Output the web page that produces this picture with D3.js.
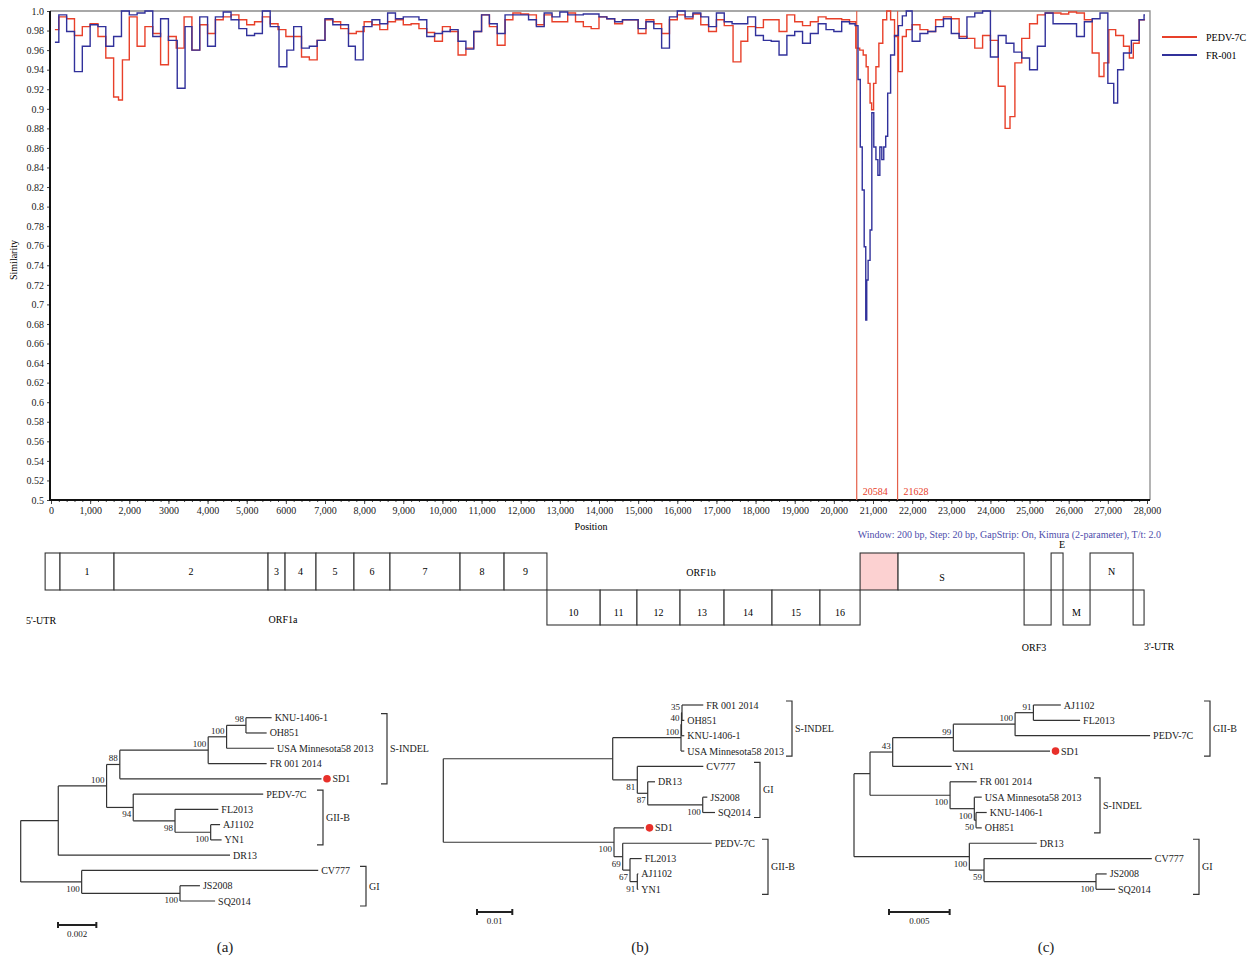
<!DOCTYPE html>
<html>
<head>
<meta charset="utf-8">
<script src="https://cdn.jsdelivr.net/npm/d3@7"></script>
<style>
  body { margin: 0; background: #fff; }
  svg { display: block; font-family: "Liberation Serif", "DejaVu Serif", serif; }
</style>
</head>
<body>
<div id="chart"></div>
<script>
// ---------------- data ----------------
// similarity plot, [position (bp), similarity]
var pedv7c = [
  [100,0.981],[300,0.994],[500,0.992],[700,0.975],[900,0.984],[1100,0.987],[1300,0.974],[1500,0.952],
  [1700,0.912],[1750,0.909],[1900,0.950],[2100,0.994],[2300,0.964],[2500,0.984],[2700,0.977],[2900,0.945],
  [3100,0.974],[3300,0.962],[3500,0.994],[3700,0.960],[3900,0.986],[4100,0.977],[4300,0.991],[4500,0.994],
  [4700,0.996],[4900,0.991],[5100,0.986],[5300,0.989],[5500,0.994],[5700,0.987],[5900,0.981],[6100,0.974],
  [6300,0.974],[6500,0.953],[6700,0.950],[6900,0.970],[7100,0.991],[7300,0.989],[7500,0.982],[7700,0.977],
  [7900,0.979],[8100,0.989],[8300,0.986],[8500,0.981],[8700,0.989],[8900,0.991],[9100,0.986],[9300,0.987],
  [9500,0.982],[9700,0.978],[9900,0.969],[10100,0.984],[10300,0.979],[10500,0.955],[10700,0.962],[10900,0.979],
  [11100,0.996],[11300,0.984],[11500,0.965],[11700,0.991],[11900,0.998],[12100,0.997],[12300,0.996],[12500,0.986],
  [12700,0.996],[12900,0.989],[13100,0.989],[13300,0.998],[13500,0.989],[13700,0.984],[13900,0.982],[14100,0.994],
  [14300,0.992],[14500,0.987],[14700,0.991],[14900,0.991],[15100,0.977],[15300,0.991],[15500,0.987],[15700,0.977],
  [15900,0.991],[16100,0.996],[16300,0.992],[16500,0.997],[16700,0.986],[16900,0.979],[17100,0.991],[17300,0.985],
  [17550,0.948],[17700,0.969],[17900,0.984],[18100,0.983],[18300,0.991],[18500,0.991],[18700,0.979],[18900,0.996],
  [19100,0.989],[19300,0.985],[19500,0.989],[19700,0.994],[19900,0.992],[20100,0.992],[20300,0.991],[20500,0.989],
  [20620,0.962],[20700,0.960],[20800,0.955],[20850,0.943],[20900,0.926],[20950,0.906],[20980,0.899],[21050,0.926],
  [21100,0.943],[21200,0.967],[21300,0.991],[21400,1.0],[21500,0.991],[21600,0.974],[21700,0.938],[21800,0.974],
  [21900,0.981],[22100,0.986],[22300,0.981],[22500,0.979],[22700,0.991],[22900,0.994],[23100,0.992],[23300,0.974],
  [23500,0.972],[23700,0.962],[23900,0.975],[24100,0.970],[24300,0.923],[24450,0.880],[24550,0.892],[24700,0.947],
  [24900,0.972],[25100,0.987],[25300,0.996],[25500,0.998],[25700,0.998],[25900,0.997],[26100,0.999],[26300,0.998],
  [26500,0.991],[26700,0.957],[26850,0.933],[26950,0.947],[27100,0.981],[27300,0.975],[27500,0.964],[27600,0.952],
  [27700,0.967],[27900,0.991],[27950,0.991]
];
var fr001 = [
  [100,0.968],[300,0.996],[500,0.979],[700,0.938],[900,0.964],[1100,0.986],[1300,0.984],[1500,0.964],
  [1700,0.974],[1900,1.0],[2100,0.996],[2300,0.998],[2500,1.0],[2700,0.974],[2900,0.992],[3100,0.970],
  [3350,0.921],[3500,0.984],[3700,0.960],[3900,0.994],[4100,0.964],[4300,0.994],[4500,0.999],[4700,0.991],
  [4900,0.982],[5100,0.975],[5300,0.977],[5500,1.0],[5700,0.984],[5950,0.943],[6100,0.960],[6300,0.984],
  [6500,0.962],[6700,0.964],[6900,0.970],[7100,0.992],[7300,0.986],[7500,0.986],[7700,0.964],[7850,0.950],
  [8100,0.984],[8300,0.991],[8500,0.987],[8700,0.998],[8900,0.992],[9100,0.994],[9300,0.994],[9500,0.991],
  [9700,0.974],[9900,0.977],[10100,0.979],[10300,0.981],[10500,0.969],[10700,0.961],[10900,0.979],[11100,0.996],
  [11300,0.987],[11500,0.977],[11700,0.996],[11900,0.996],[12100,0.996],[12300,0.991],[12500,0.984],[12700,0.998],
  [12900,0.994],[13100,0.999],[13300,0.996],[13500,0.996],[13700,0.997],[13900,0.997],[14100,0.994],[14300,0.992],
  [14500,0.989],[14700,0.991],[14900,0.991],[15100,0.982],[15300,0.989],[15500,0.982],[15700,0.962],[15900,0.994],
  [16100,1.0],[16300,0.994],[16500,0.998],[16700,0.994],[16900,0.984],[17100,0.998],[17300,0.989],[17500,0.987],
  [17700,0.987],[17900,0.994],[18100,0.975],[18300,0.970],[18500,0.969],[18700,0.955],[18900,0.975],[19100,0.979],
  [19300,0.967],[19500,0.977],[19700,0.987],[19900,0.981],[20100,0.979],[20300,0.989],[20500,0.987],[20584,0.985],
  [20650,0.930],[20700,0.861],[20750,0.817],[20800,0.759],[20830,0.684],[20850,0.725],[20900,0.745],[20950,0.776],
  [20990,0.896],[21050,0.861],[21100,0.848],[21150,0.832],[21200,0.861],[21250,0.848],[21300,0.861],[21350,0.872],
  [21400,0.916],[21500,0.955],[21600,0.975],[21700,0.985],[21800,0.995],[21900,1.0],[22100,0.969],[22300,0.977],
  [22500,0.979],[22700,0.984],[22900,0.992],[23100,0.977],[23300,0.972],[23500,0.994],[23700,0.998],[23900,1.0],
  [24100,0.953],[24300,0.975],[24500,0.967],[24700,0.958],[24900,0.952],[25100,0.940],[25300,0.964],[25500,0.998],
  [25700,0.987],[25900,0.987],[26100,0.987],[26300,0.974],[26500,0.989],[26700,0.992],[26900,0.998],[27100,0.926],
  [27200,0.906],[27300,0.940],[27500,0.957],[27700,0.970],[27900,0.991],[27950,0.996]
];
var breakpoints = [20584, 21628];

var xTickValues = d3.range(0, 28001, 1000);
var xTickLabels = ['0','1,000','2,000','3000','4,000','5,000','6000','7,000','8,000','9,000','10,000',
  '11,000','12,000','13,000','14,000','15,000','16,000','17,000','18,000','19,000','20,000','21,000',
  '22,000','23,000','24,000','25,000','26,000','27,000','28,000'];
var yTickValues = d3.range(0, 26).map(function(i) { return 0.5 + i * 0.02; });
var yTickLabels = ['0.5','0.52','0.54','0.56','0.58','0.6','0.62','0.64','0.66','0.68','0.7','0.72','0.74',
  '0.76','0.78','0.8','0.82','0.84','0.86','0.88','0.9','0.92','0.94','0.96','0.98','1.0'];

// genome map: [label, start bp, end bp, row (0 top / 1 bottom)]
var genomeSegments = [
  ['', -150, 230, 0], ['1', 230, 1610, 0], ['2', 1610, 5545, 0], ['3', 5545, 5980, 0],
  ['4', 5980, 6770, 0], ['5', 6770, 7740, 0], ['6', 7740, 8660, 0], ['7', 8660, 10450, 0],
  ['8', 10450, 11575, 0], ['9', 11575, 12670, 0],
  ['10', 12670, 14030, 1], ['11', 14030, 14970, 1], ['12', 14970, 16070, 1], ['13', 16070, 17195, 1],
  ['14', 17195, 18420, 1], ['15', 18420, 19645, 1], ['16', 19645, 20670, 1],
  ['recomb', 20670, 21640, 0], ['S', 21640, 24860, 0], ['', 24860, 25550, 1], ['', 25550, 25855, 0],
  ['M', 25855, 26545, 1], ['N', 26545, 27645, 0], ['', 27645, 27925, 1]
];

// trees: [node id, parent id, branch length, bootstrap]
var treeA = [
  ['root','',0,''],
  ['a1','root',0.00196,''],
  ['a2','a1',0.00252,'100'],
  ['a3','a2',0.00069,'88'],
  ['a4','a3',0.00461,'100'],
  ['a5','a4',0.00096,'100'],
  ['a6','a5',0.00101,'98'],
  ['KNU-1406-1','a6',0.00134,''],
  ['OH851','a6',0.00108,''],
  ['USA Minnesota58 2013','a5',0.00247,''],
  ['FR 001 2014','a4',0.00305,''],
  ['SD1','a3',0.01052,''],
  ['a7','a2',0.00139,'94'],
  ['PEDV-7C','a7',0.00678,''],
  ['a8','a7',0.00218,'98'],
  ['FL2013','a8',0.00226,''],
  ['a9','a8',0.00186,'100'],
  ['AJ1102','a9',0.00049,''],
  ['YN1','a9',0.00057,''],
  ['DR13','a1',0.00896,''],
  ['a10','root',0.00318,'100'],
  ['CV777','a10',0.01234,''],
  ['a11','a10',0.00513,'100'],
  ['JS2008','a11',0.00104,''],
  ['SQ2014','a11',0.00183,'']
];
var treeB = [
  ['root','',0,''],
  ['b1','root',0.04799,''],
  ['b2','b1',0.01935,'100'],
  ['b3','b2',0.00014,'40'],
  ['b4','b3',0.00014,'35'],
  ['FR 001 2014','b4',0.00603,''],
  ['OH851','b4',0.00065,''],
  ['KNU-1406-1','b3',0.00079,''],
  ['USA Minnesota58 2013','b2',0.00093,''],
  ['b5','b1',0.00697,'81'],
  ['CV777','b5',0.0187,''],
  ['b6','b5',0.00295,'87'],
  ['DR13','b6',0.00207,''],
  ['b7','b6',0.01558,'100'],
  ['JS2008','b7',0.0013,''],
  ['SQ2014','b7',0.00348,''],
  ['b8','root',0.04836,'100'],
  ['SD1','b8',0.0085,''],
  ['b9','b8',0.00246,'69'],
  ['PEDV-7C','b9',0.02521,''],
  ['b10','b9',0.00207,'67'],
  ['FL2013','b10',0.00331,''],
  ['b11','b10',0.00207,'91'],
  ['AJ1102','b11',0.00028,''],
  ['YN1','b11',0.00028,'']
];
var treeC = [
  ['root','',0,''],
  ['c1','root',0.00132,''],
  ['c2','c1',0.00187,'43'],
  ['c3','c2',0.005,'99'],
  ['c4','c3',0.00509,'100'],
  ['c5','c4',0.00151,'91'],
  ['AJ1102','c5',0.00226,''],
  ['FL2013','c5',0.00385,''],
  ['PEDV-7C','c4',0.01113,''],
  ['SD1','c3',0.00797,''],
  ['YN1','c2',0.00486,''],
  ['c6','c1',0.0066,'100'],
  ['FR 001 2014','c6',0.0022,''],
  ['c7','c6',0.002,'100'],
  ['USA Minnesota58 2013','c7',0.00061,''],
  ['c8','c7',0.00014,'50'],
  ['KNU-1406-1','c8',0.00088,''],
  ['OH851','c8',0.00047,''],
  ['c9','root',0.00951,'100'],
  ['DR13','c9',0.00556,''],
  ['c10','c9',0.00121,'59'],
  ['CV777','c10',0.01383,''],
  ['c11','c10',0.00923,'100'],
  ['JS2008','c11',0.00088,''],
  ['SQ2014','c11',0.00157,'']
];
// clades: [name, first leaf, last leaf]
var cladesA = [['S-INDEL','KNU-1406-1','SD1'], ['GII-B','PEDV-7C','YN1'], ['GI','CV777','SQ2014']];
var cladesB = [['S-INDEL','FR 001 2014','USA Minnesota58 2013'], ['GI','CV777','SQ2014'], ['GII-B','PEDV-7C','YN1']];
var cladesC = [['GII-B','AJ1102','SD1'], ['S-INDEL','FR 001 2014','OH851'], ['GI','DR13','SQ2014']];
var scaleBars = [0.002, 0.01, 0.005];

// ---------------- svg ----------------
var chart_width = 1253;
var chart_height = 959;
var red = '#e8402a';
var blue = '#31319b';
var ink = '#333';

var svg = d3.select('#chart')
  .append('svg')
  .attr('width', chart_width)
  .attr('height', chart_height);

// scales
var x_scale = d3.scaleLinear().domain([0, 28000]).range([51, 1147]);
var y_scale = d3.scaleLinear().domain([0.5, 1.0]).range([500, 11]);

// frame (top/right grey)
svg.append('path')
  .attr('d', 'M50,11H1150V500')
  .attr('fill', 'none')
  .attr('stroke', '#8c8c8c')
  .attr('stroke-width', 1.3);

// axes
var x_axis = d3.axisBottom(x_scale)
  .tickValues(xTickValues)
  .tickSize(4)
  .tickPadding(3)
  .tickFormat(function(d, i) { return xTickLabels[i]; });
var gx = svg.append('g')
  .attr('class', 'x-axis')
  .attr('transform', 'translate(0,500)')
  .call(x_axis);

var x_minor = d3.axisBottom(x_scale)
  .tickValues(d3.range(0, 28001, 200))
  .tickSize(2)
  .tickFormat('');
svg.append('g')
  .attr('transform', 'translate(0,500)')
  .call(x_minor)
  .call(function(g) { g.select('.domain').remove(); });

var y_axis = d3.axisLeft(y_scale)
  .tickValues(yTickValues)
  .tickSize(3)
  .tickPadding(3)
  .tickFormat(function(d, i) { return yTickLabels[i]; });
var gy = svg.append('g')
  .attr('class', 'y-axis')
  .attr('transform', 'translate(50,0)')
  .call(y_axis);

[gx, gy].forEach(function(g) {
  g.select('.domain').remove();
  g.selectAll('text').attr('font-family', '"Liberation Serif", serif').attr('font-size', 10).attr('fill', '#222');
});
svg.selectAll('.tick line').attr('stroke', '#444');

// left / bottom black axis lines
svg.append('path')
  .attr('d', 'M50,11V500H1150')
  .attr('fill', 'none')
  .attr('stroke', '#111')
  .attr('stroke-width', 2);

// axis titles
svg.append('text')
  .attr('transform', 'translate(17,260) rotate(-90)')
  .attr('text-anchor', 'middle')
  .attr('font-size', 10)
  .text('Similarity');
svg.append('text')
  .attr('x', 591).attr('y', 530)
  .attr('text-anchor', 'middle')
  .attr('font-size', 10)
  .text('Position');

// breakpoint markers
svg.selectAll('.bp')
  .data(breakpoints)
  .enter()
  .append('line')
  .attr('x1', function(d) { return x_scale(d); })
  .attr('x2', function(d) { return x_scale(d); })
  .attr('y1', 11).attr('y2', 500)
  .attr('stroke', '#e4604a')
  .attr('stroke-width', 1.2);
svg.selectAll('.bp-label')
  .data(breakpoints)
  .enter()
  .append('text')
  .attr('x', function(d) { return x_scale(d) + 6; })
  .attr('y', 495)
  .attr('font-size', 10)
  .attr('fill', red)
  .text(function(d) { return d; });

// similarity lines (stepped, like the window scan output)
var line = d3.line()
  .curve(d3.curveStep)
  .x(function(d) { return x_scale(d[0]); })
  .y(function(d) { return y_scale(d[1]); });

svg.append('path')
  .datum(pedv7c)
  .attr('d', line)
  .attr('fill', 'none')
  .attr('stroke', red)
  .attr('stroke-width', 1.4);
svg.append('path')
  .datum(fr001)
  .attr('d', line)
  .attr('fill', 'none')
  .attr('stroke', blue)
  .attr('stroke-width', 1.4);

// legend
var legend = [['PEDV-7C', red, 37], ['FR-001', blue, 55]];
legend.forEach(function(l) {
  svg.append('line')
    .attr('x1', 1162).attr('x2', 1197)
    .attr('y1', l[2]).attr('y2', l[2])
    .attr('stroke', l[1]).attr('stroke-width', 2);
  svg.append('text')
    .attr('x', 1206).attr('y', l[2] + 3.5)
    .attr('font-size', 10)
    .text(l[0]);
});

svg.append('text')
  .attr('x', 1161).attr('y', 538)
  .attr('text-anchor', 'end')
  .attr('font-size', 10)
  .attr('fill', '#4d4dab')
  .text('Window: 200 bp, Step: 20 bp, GapStrip: On, Kimura (2-parameter), T/t: 2.0');

// ---------------- genome map ----------------
var rows = [[553, 590], [590, 625]];
var map = svg.append('g').attr('class', 'genome');
map.selectAll('rect')
  .data(genomeSegments)
  .enter()
  .append('rect')
  .attr('x', function(d) { return x_scale(d[1]); })
  .attr('y', function(d) { return rows[d[3]][0]; })
  .attr('width', function(d) { return x_scale(d[2]) - x_scale(d[1]); })
  .attr('height', function(d) { return rows[d[3]][1] - rows[d[3]][0]; })
  .attr('fill', function(d) { return d[0] === 'recomb' ? '#fcd1d1' : '#fff'; })
  .attr('stroke', '#333')
  .attr('stroke-width', 1.1);

map.selectAll('text.seg')
  .data(genomeSegments.filter(function(d) { return d[0] !== '' && d[0] !== 'recomb' && d[0] !== 'S'; }))
  .enter()
  .append('text')
  .attr('class', 'seg')
  .attr('x', function(d) { return (x_scale(d[1]) + x_scale(d[2])) / 2; })
  .attr('y', function(d) { return d[3] === 0 ? 575 : 616; })
  .attr('text-anchor', 'middle')
  .attr('font-size', 10)
  .text(function(d) { return d[0]; });

var mapNotes = [
  ["5'-UTR", 41, 624], ['ORF1a', 283, 623], ['ORF1b', 701, 576], ['S', 942, 581],
  ['ORF3', 1034, 651], ['E', 1062, 548], ["3'-UTR", 1159, 650]
];
map.selectAll('text.note')
  .data(mapNotes)
  .enter()
  .append('text')
  .attr('class', 'note')
  .attr('x', function(d) { return d[1]; })
  .attr('y', function(d) { return d[2]; })
  .attr('text-anchor', 'middle')
  .attr('font-size', 10)
  .text(function(d) { return d[0]; });

// ---------------- trees ----------------
var treeLayouts = [
  { rows: treeA, clades: cladesA, x0: 20.7, k: 19170, yFirst: 717.7, yLast: 901,
    bracketX: [387, 323, 366], barX: 58, barY: 925, tag: '(a)', tagX: 225 },
  { rows: treeB, clades: cladesB, x0: 443.3, k: 3530, yFirst: 705, yLast: 889.3,
    bracketX: [792, 760, 768], barX: 477, barY: 912, tag: '(b)', tagX: 640 },
  { rows: treeC, clades: cladesC, x0: 854, k: 12130, yFirst: 705, yLast: 889.3,
    bracketX: [1210, 1100, 1199], barX: 889, barY: 912, tag: '(c)', tagX: 1046 }
];

treeLayouts.forEach(function(t, ti) {
  var root = d3.stratify()
    .id(function(d) { return d[0]; })
    .parentId(function(d) { return d[1] || null; })(t.rows);

  var leaves = root.leaves().length;
  var spacing = (t.yLast - t.yFirst) / (leaves - 1);
  d3.cluster().nodeSize([spacing, 1]).separation(function() { return 1; })(root);

  var minX = d3.min(root.leaves(), function(d) { return d.x; });
  var xs = d3.scaleLinear().domain([0, 1]).range([t.x0, t.x0 + t.k]);

  root.each(function(n) {
    n.dist = n.parent ? n.parent.dist + n.data[2] : 0;
    n.px = xs(n.dist);
    n.py = t.yFirst + (n.x - minX);
  });

  var g = svg.append('g').attr('class', 'tree');

  // horizontal branches
  g.selectAll('line.h')
    .data(root.descendants().filter(function(n) { return n.parent; }))
    .enter()
    .append('line')
    .attr('x1', function(n) { return n.parent.px; })
    .attr('x2', function(n) { return n.px; })
    .attr('y1', function(n) { return n.py; })
    .attr('y2', function(n) { return n.py; })
    .attr('stroke', ink)
    .attr('stroke-width', 1.2);

  // vertical connectors
  g.selectAll('line.v')
    .data(root.descendants().filter(function(n) { return n.children; }))
    .enter()
    .append('line')
    .attr('x1', function(n) { return n.px; })
    .attr('x2', function(n) { return n.px; })
    .attr('y1', function(n) { return n.children[0].py; })
    .attr('y2', function(n) { return n.children[n.children.length - 1].py; })
    .attr('stroke', ink)
    .attr('stroke-width', 1.2);

  // bootstrap values
  g.selectAll('text.boot')
    .data(root.descendants().filter(function(n) { return n.data[3] !== ''; }))
    .enter()
    .append('text')
    .attr('x', function(n) { return n.px - 2; })
    .attr('y', function(n) { return n.parent.children[0] === n ? n.py - 3 : n.py + 10; })
    .attr('text-anchor', 'end')
    .attr('font-size', 9)
    .attr('fill', '#222')
    .text(function(n) { return n.data[3]; });

  // leaf labels
  var leafNodes = root.leaves();
  g.selectAll('text.leaf')
    .data(leafNodes)
    .enter()
    .append('text')
    .attr('x', function(n) { return n.px + (n.id === 'SD1' ? 11 : 3); })
    .attr('y', function(n) { return n.py + 3.5; })
    .attr('font-size', 10)
    .attr('fill', '#222')
    .text(function(n) { return n.id; });

  g.selectAll('circle')
    .data(leafNodes.filter(function(n) { return n.id === 'SD1'; }))
    .enter()
    .append('circle')
    .attr('cx', function(n) { return n.px + 5.5; })
    .attr('cy', function(n) { return n.py; })
    .attr('r', 3.8)
    .attr('fill', '#e8302a');

  // clade brackets
  var byId = {};
  leafNodes.forEach(function(n) { byId[n.id] = n; });
  t.clades.forEach(function(c, ci) {
    var bx = t.bracketX[ci];
    var y1 = byId[c[1]].py - 4;
    var y2 = byId[c[2]].py + 5;
    g.append('path')
      .attr('d', 'M' + (bx - 6) + ',' + y1 + 'H' + bx + 'V' + y2 + 'H' + (bx - 6))
      .attr('fill', 'none')
      .attr('stroke', ink)
      .attr('stroke-width', 1.2);
    g.append('text')
      .attr('x', bx + 3)
      .attr('y', (y1 + y2) / 2 + 3.5)
      .attr('font-size', 10)
      .attr('fill', '#222')
      .text(c[0]);
  });

  // scale bar
  var barLen = scaleBars[ti] * t.k;
  g.append('path')
    .attr('d', 'M' + t.barX + ',' + (t.barY - 3) + 'V' + (t.barY + 3) +
      'M' + t.barX + ',' + t.barY + 'H' + (t.barX + barLen) +
      'M' + (t.barX + barLen) + ',' + (t.barY - 3) + 'V' + (t.barY + 3))
    .attr('fill', 'none')
    .attr('stroke', '#222')
    .attr('stroke-width', 2);
  g.append('text')
    .attr('x', t.barX + barLen / 2)
    .attr('y', t.barY + 12)
    .attr('text-anchor', 'middle')
    .attr('font-size', 9)
    .attr('fill', '#222')
    .text(scaleBars[ti]);

  // panel tag
  svg.append('text')
    .attr('x', t.tagX)
    .attr('y', 952)
    .attr('text-anchor', 'middle')
    .attr('font-size', 15)
    .attr('fill', '#222')
    .text(t.tag);
});
</script>
</body>
</html>
